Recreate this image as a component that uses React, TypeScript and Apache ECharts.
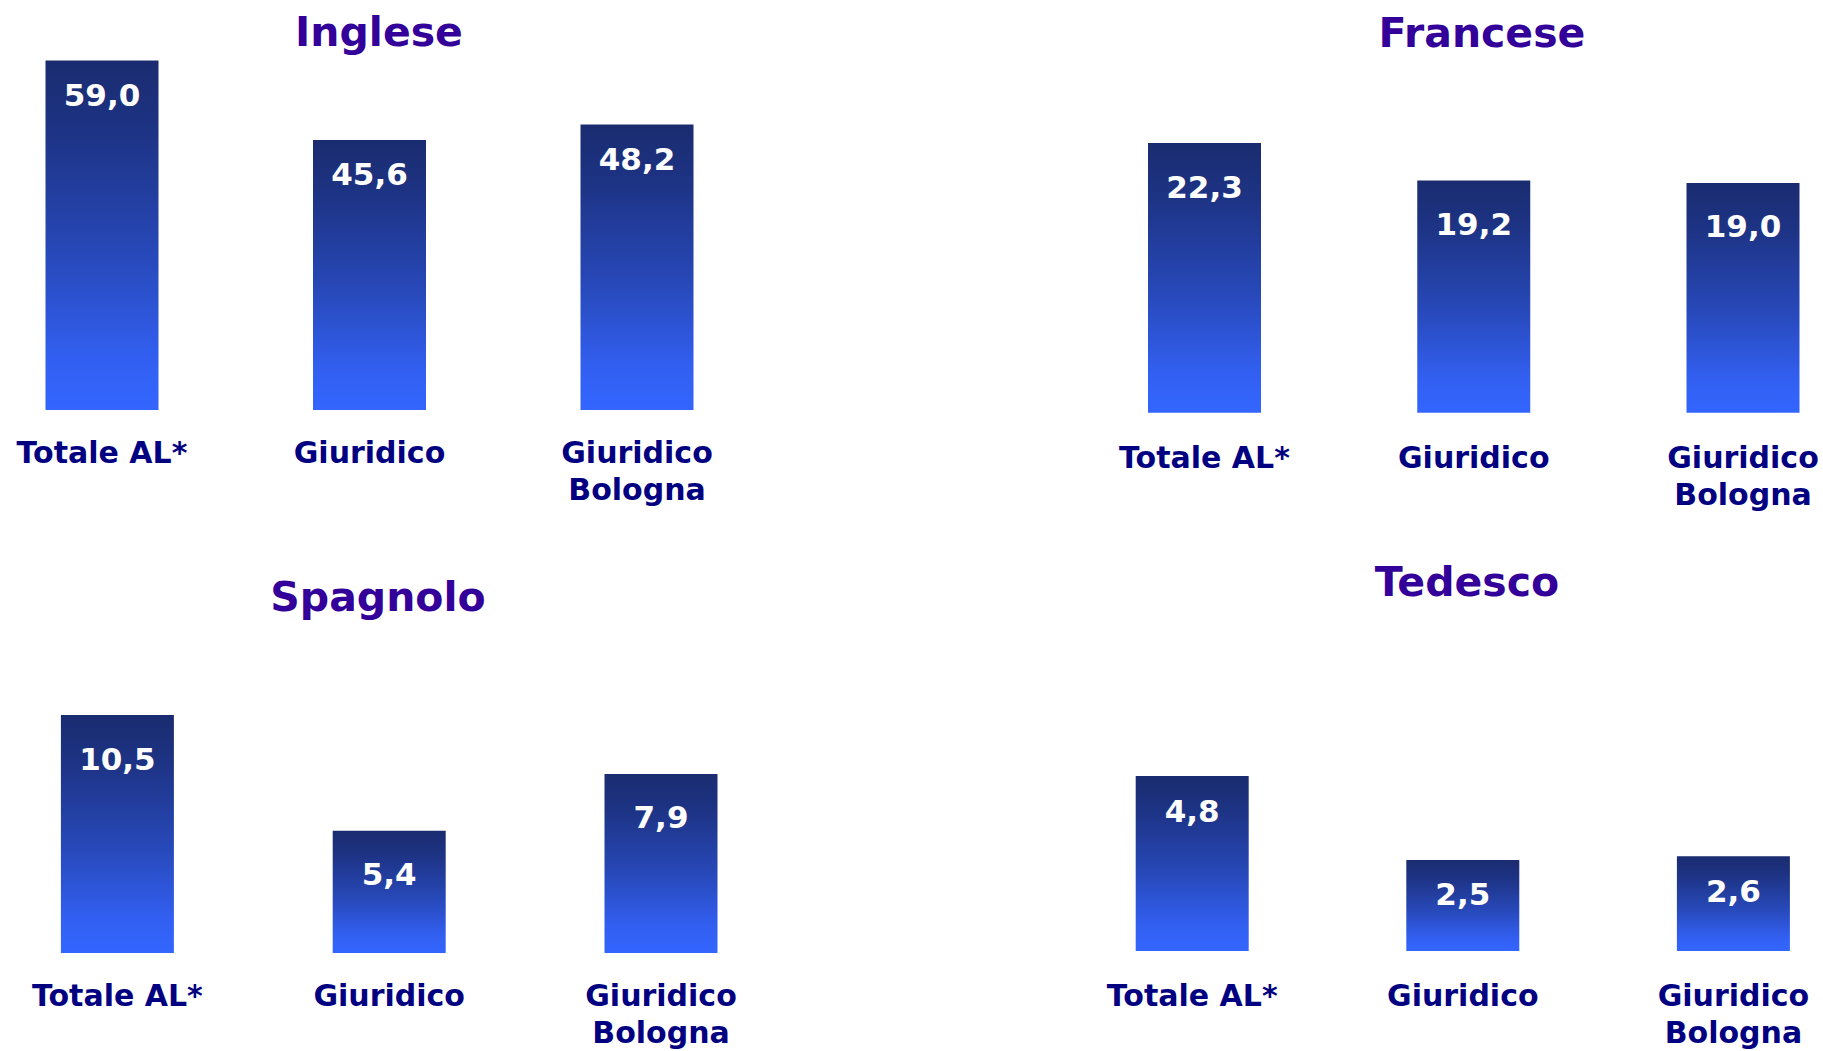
import React, { useEffect, useRef } from "react";
import * as echarts from "echarts";

const categories = ["Totale AL*", "Giuridico", "Giuridico\nBologna"];
const titles = ["Inglese", "Francese", "Spagnolo", "Tedesco"];
const inglese = [59.0, 45.6, 48.2];
const francese = [22.3, 19.2, 19.0];
const spagnolo = [10.5, 5.4, 7.9];
const tedesco = [4.8, 2.5, 2.6];
const axisMax = [60, 30, 15, 8];

// layout for each panel (pixel positions on the page)
const panels = [
  { values: inglese, left: 102, width: 535, top: 54.6, bottom: 410, tx: 379, ty: 32, labelDist: 19, margin: 24 },
  { values: francese, left: 1204.5, width: 538.5, top: 49.9, bottom: 412.7, tx: 1482, ty: 33, labelDist: 28, margin: 26 },
  { values: spagnolo, left: 117.4, width: 543.6, top: 613.1, bottom: 956.8, tx: 378, ty: 597, labelDist: 28, margin: 24 },
  { values: tedesco, left: 1192.2, width: 541.2, top: 659.5, bottom: 954.3, tx: 1467, ty: 582, labelDist: 19, margin: 26 },
];

const FONT = "'DejaVu Sans', Verdana, sans-serif";

export default function App() {
  const ref = useRef<HTMLDivElement>(null);
  useEffect(() => {
    if (!ref.current) return;
    const chart = echarts.init(ref.current, null, { renderer: "svg" });
    const grid = panels.map((p) => ({
      left: p.left,
      top: p.top,
      width: p.width,
      height: p.bottom - p.top,
      containLabel: false,
    }));
    const xAxis = panels.map((p, i) => ({
      type: "category",
      gridIndex: i,
      data: categories,
      boundaryGap: false,
      axisLine: { show: false },
      axisTick: { show: false },
      splitLine: { show: false },
      axisLabel: {
        interval: 0,
        margin: p.margin,
        color: "#000080",
        fontFamily: FONT,
        fontWeight: "bold",
        fontSize: 30,
        lineHeight: 37,
        align: "center",
      },
    }));
    const yAxis = panels.map((_, i) => ({
      type: "value",
      gridIndex: i,
      min: 0,
      max: axisMax[i],
      show: false,
      splitLine: { show: false },
    }));
    const gradient = () =>
      new echarts.graphic.LinearGradient(0, 0, 0, 1, [
        { offset: 0, color: "#1a2c70" },
        { offset: 0.2, color: "#1d3384" },
        { offset: 0.55, color: "#2748b8" },
        { offset: 0.85, color: "#325ff0" },
        { offset: 1, color: "#3366ff" },
      ]);
    const series = panels.map((p, i) => ({
      type: "bar",
      name: titles[i],
      xAxisIndex: i,
      yAxisIndex: i,
      data: p.values,
      barWidth: 113,
      itemStyle: { color: gradient() },
      label: {
        show: true,
        position: "insideTop",
        distance: p.labelDist,
        color: "#ffffff",
        fontFamily: FONT,
        fontWeight: "bold",
        fontSize: 31,
        formatter: (d: any) => Number(d.value).toFixed(1).replace(".", ","),
      },
    }));
    const graphic = panels.map((p, i) => ({
      type: "text",
      x: p.tx,
      y: p.ty,
      style: {
        text: titles[i],
        fill: "#330099",
        font: `bold 41px ${FONT}`,
        textAlign: "center",
        textVerticalAlign: "middle",
      },
    }));
    chart.setOption({
      animation: false,
      backgroundColor: "#ffffff",
      grid,
      xAxis,
      yAxis,
      series,
      graphic,
    });
    return () => chart.dispose();
  }, []);
  return (
    <div
      ref={ref}
      style={{ position: "fixed", left: 0, top: 0, width: 1823, height: 1051, background: "#fff" }}
    />
  );
}
